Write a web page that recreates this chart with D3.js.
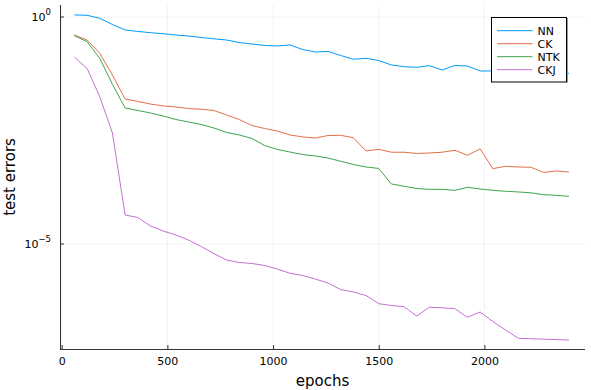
<!DOCTYPE html>
<html>
<head>
<meta charset="utf-8">
<script src="https://cdn.jsdelivr.net/npm/d3@7"></script>
<style>
  html, body { margin: 0; padding: 0; background: #fff; }
  svg { display: block; font-family: "DejaVu Sans", sans-serif; }
</style>
</head>
<body>
<svg id="chart" width="591" height="390"></svg>
<script>
const epochs = [60,120,180,240,300,360,420,480,540,600,660,720,780,840,900,960,1020,1080,1140,1200,
  1260,1320,1380,1440,1500,1560,1620,1680,1740,1800,1860,1920,1980,2040,2100,2160,2220,2280,2340,2400];

const nn = [1.11,1.09,0.936,0.684,0.517,0.480,0.451,0.427,0.401,0.381,0.353,0.331,0.311,0.274,0.254,0.236,0.230,0.242,0.192,0.169,
  0.174,0.142,0.117,0.123,0.110,0.0877,0.0804,0.0780,0.0846,0.0680,0.0855,0.0833,0.0647,0.0647,0.0615,0.0600,0.0615,0.0584,0.0584,0.0575];

const ck = [0.401,0.311,0.159,0.0528,0.0156,0.0138,0.0121,0.0110,0.0104,0.00966,0.00927,0.00873,0.00694,0.00552,0.00407,0.00350,0.00308,0.00252,0.00228,0.00216,
  0.00245,0.00248,0.00219,0.00112,0.00122,0.00105,0.00105,0.000985,0.00101,0.00105,0.00116,0.000899,0.00124,0.000456,0.000515,0.000497,0.000489,0.000376,0.000406,0.000385];

const ntk = [0.387,0.286,0.123,0.0331,0.00990,0.00873,0.00768,0.00659,0.00552,0.00487,0.00429,0.00359,0.00286,0.00252,0.00211,0.00148,0.00121,0.00106,0.000936,0.000868,
  0.000784,0.000663,0.000564,0.000497,0.000461,0.000210,0.000187,0.000167,0.000160,0.000160,0.000152,0.000177,0.000163,0.000152,0.000145,0.000140,0.000134,0.000122,0.000118,0.000112];

const ckj = [0.130,0.0741,0.0176,0.00279,4.35e-5,3.84e-5,2.49e-5,1.93e-5,1.58e-5,1.22e-5,8.81e-6,6.18e-6,4.44e-6,3.91e-6,3.72e-6,3.36e-6,2.81e-6,2.26e-6,2.02e-6,1.69e-6,
  1.38e-6,9.95e-7,8.77e-7,7.34e-7,4.84e-7,4.42e-7,4.16e-7,2.59e-7,4.04e-7,3.94e-7,3.76e-7,2.43e-7,3.18e-7,1.96e-7,1.28e-7,8.38e-8,8.17e-8,8.00e-8,7.83e-8,7.67e-8];

const seriesNames = ["NN","CK","NTK","CKJ"];
const seriesColors = ["#009AFA","#E36F47","#3EA44E","#C371D2"];
const xTicks = [0,500,1000,1500,2000];
const yTicks = [1, 1e-5];
const yTickExps = ["0","\u22125"];
const xLabel = "epochs";
const yLabel = "test errors";

const seriesValues = [nn, ck, ntk, ckj];

const L = 60, R = 585, T = 5, B = 349;
const svg = d3.select("#chart");

const x = d3.scaleLinear().domain([-8, 2476]).range([L, R]);
const y = d3.scaleLog().domain([Math.pow(10,-7.313), Math.pow(10,0.264)]).range([B, T]);

// grid
const grid = svg.append("g");
grid.selectAll("line.gx").data(xTicks).enter().append("line")
  .attr("x1", d => x(d)).attr("x2", d => x(d)).attr("y1", T).attr("y2", B)
  .attr("stroke", "#000").attr("stroke-opacity", 0.1).attr("stroke-width", 0.5);
grid.selectAll("line.gy").data(yTicks).enter().append("line")
  .attr("x1", L).attr("x2", R).attr("y1", d => y(d)).attr("y2", d => y(d))
  .attr("stroke", "#000").attr("stroke-opacity", 0.1).attr("stroke-width", 0.5);

// lines
svg.append("defs").append("clipPath").attr("id","clip")
  .append("rect").attr("x", L).attr("y", T).attr("width", R-L).attr("height", B-T);
const line = d3.line().x(d => x(d[0])).y(d => y(d[1]));
const lines = svg.append("g").attr("clip-path","url(#clip)");
seriesValues.forEach((vals, i) => {
  lines.append("path")
    .datum(epochs.map((e, j) => [e, vals[j]]))
    .attr("d", line)
    .attr("fill", "none")
    .attr("stroke", seriesColors[i])
    .attr("stroke-width", 1);
});

// axes
const xAxis = d3.axisBottom(x).tickValues(xTicks).tickFormat(d3.format("d"))
  .tickSizeInner(-4).tickSizeOuter(0).tickPadding(8);
const gx = svg.append("g").attr("transform", `translate(0,${B})`).call(xAxis);
gx.select(".domain").attr("d", `M${L},0.5H${R}`).attr("stroke","#333").attr("stroke-width",1);
gx.selectAll(".tick line").attr("stroke","#333");
gx.selectAll(".tick text").attr("font-size", 11).attr("font-family","DejaVu Sans, sans-serif").attr("fill","#000");

const gy = svg.append("g").attr("transform", `translate(${L},0)`);
gy.append("line").attr("x1",0.5).attr("x2",0.5).attr("y1",T).attr("y2",B+1).attr("stroke","#333");
yTicks.forEach((t, i) => {
  const yy = y(t);
  gy.append("line").attr("x1",0).attr("x2",4).attr("y1",yy).attr("y2",yy).attr("stroke","#333");
  const txt = gy.append("text").attr("x", -9).attr("y", yy + 4).attr("text-anchor","end")
    .attr("font-size", 11).attr("fill","#000");
  txt.append("tspan").text("10");
  txt.append("tspan").attr("dy", -6).attr("font-size", 8.5).text(yTickExps[i]);
});

// axis labels
svg.append("text").attr("x", (L+R)/2).attr("y", 386).attr("text-anchor","middle")
  .attr("font-size", 15).text(xLabel);
svg.append("text").attr("transform", `translate(15,${(T+B)/2}) rotate(-90)`).attr("text-anchor","middle")
  .attr("font-size", 15).text(yLabel);

// legend
const lg = svg.append("g");
lg.append("rect").attr("x", 491.5).attr("y", 17.5).attr("width", 75).attr("height", 64.5)
  .attr("fill", "#fff").attr("stroke", "#000").attr("stroke-width", 1);
lg.append("line").attr("x1", 567.5).attr("x2", 567.5).attr("y1", 18).attr("y2", 82.5)
  .attr("stroke", "#999").attr("stroke-width", 1);
seriesNames.forEach((n, i) => {
  const yy = 30.7 + i * 13;
  lg.append("line").attr("x1", 497).attr("x2", 532.5).attr("y1", yy).attr("y2", yy)
    .attr("stroke", seriesColors[i]).attr("stroke-width", 1);
  lg.append("text").attr("x", 537.5).attr("y", yy + 4).attr("font-size", 11).text(n);
});
</script>
</body>
</html>
